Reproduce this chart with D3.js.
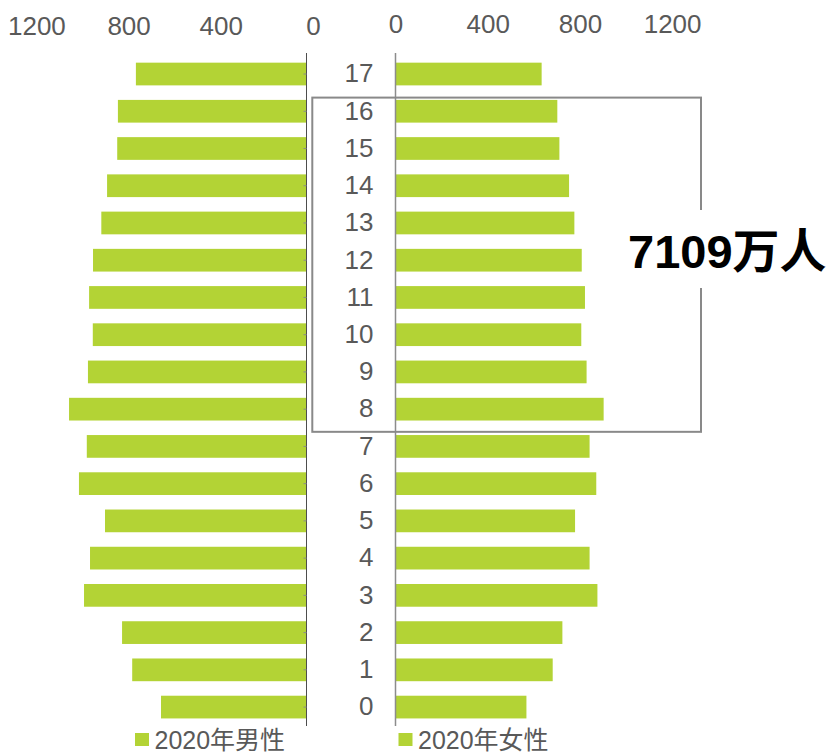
<!DOCTYPE html>
<html>
<head>
<meta charset="utf-8">
<script src="https://cdn.jsdelivr.net/npm/d3@7/dist/d3.min.js"></script>
<style>
  html, body { margin: 0; padding: 0; background: #fff; }
  svg { display: block; font-family: "Liberation Sans", Arial, "Noto Sans CJK SC", sans-serif; }
</style>
</head>
<body>
<svg id="chart" width="829" height="754"></svg>
<script>
// ages, top of the pyramid first
const ages = [17, 16, 15, 14, 13, 12, 11, 10, 9, 8, 7, 6, 5, 4, 3, 2, 1, 0];
// 万人
const male = [738, 816, 819, 863, 888, 924, 941, 925, 946, 1028, 951, 985, 872, 937, 963, 798, 754, 629];
const female = [634, 702, 711, 753, 776, 808, 822, 806, 829, 903, 842, 871, 779, 842, 876, 724, 682, 568];
const axisTicks = [0, 400, 800, 1200];
const legendLabels = ['2020年男性', '2020年女性'];
const boxedAges = [16, 8];
const boxLabel = '7109万人';

const barColour = '#b3d335';
const textColour = '#595959';

const svg = d3.select('#chart');

const leftZero = 306;
const rightZero = 395.5;
const pxPerUnit = 0.2305;

const xMale = d3.scaleLinear()
  .domain([0, 1200])
  .range([leftZero, leftZero - 1200 * pxPerUnit]);
const xFemale = d3.scaleLinear()
  .domain([0, 1200])
  .range([rightZero, rightZero + 1200 * pxPerUnit]);
const y = d3.scaleBand()
  .domain(ages)
  .range([55.4, 725.7])
  .paddingInner(0.39)
  .paddingOuter(0.195);

// bars
svg.append('g').selectAll('rect')
  .data(ages)
  .join('rect')
  .attr('x', (d, i) => xMale(male[i]))
  .attr('y', (d) => y(d))
  .attr('width', (d, i) => xMale(0) - xMale(male[i]))
  .attr('height', y.bandwidth())
  .attr('fill', barColour);

svg.append('g').selectAll('rect')
  .data(ages)
  .join('rect')
  .attr('x', xFemale(0))
  .attr('y', (d) => y(d))
  .attr('width', (d, i) => xFemale(female[i]) - xFemale(0))
  .attr('height', y.bandwidth())
  .attr('fill', barColour);

// vertical axis lines
svg.append('line')
  .attr('x1', leftZero + 0.5).attr('x2', leftZero + 0.5)
  .attr('y1', 53).attr('y2', 726)
  .attr('stroke', '#4d4d4d').attr('stroke-width', 1);
svg.append('line')
  .attr('x1', rightZero).attr('x2', rightZero)
  .attr('y1', 53).attr('y2', 726)
  .attr('stroke', '#8c8c8c').attr('stroke-width', 1.5);

// tiny category ticks on the male side
const tickAxis = svg.append('g')
  .attr('transform', 'translate(' + (leftZero + 0.5) + ',0)')
  .call(d3.axisLeft(y).tickSize(3).tickFormat(''));
tickAxis.select('.domain').remove();
tickAxis.selectAll('line').attr('stroke', '#8c8c8c');

// top value axes
const styleTop = (g) => {
  g.select('.domain').remove();
  g.selectAll('line').remove();
  g.selectAll('text')
    .attr('y', 0)
    .attr('dy', 0)
    .attr('fill', textColour)
    .attr('font-size', 26)
    .attr('font-family', '"Liberation Sans", Arial, sans-serif');
};

svg.append('g')
  .attr('transform', 'translate(0,34.5)')
  .call(d3.axisTop(xMale).tickValues(axisTicks).tickSize(0).tickFormat(d3.format('d')))
  .call(styleTop)
  .selectAll('text')
  .attr('dx', 7);

svg.append('g')
  .attr('transform', 'translate(0,32.5)')
  .call(d3.axisTop(xFemale).tickValues(axisTicks).tickSize(0).tickFormat(d3.format('d')))
  .call(styleTop);

// age labels between the halves
const ageAxis = svg.append('g')
  .attr('transform', 'translate(373.5,0)')
  .call(d3.axisLeft(y).tickSize(0).tickPadding(0));
ageAxis.select('.domain').remove();
ageAxis.selectAll('text')
  .attr('dy', '0.32em')
  .attr('fill', textColour)
  .attr('font-size', 26)
  .attr('font-family', '"Liberation Sans", Arial, sans-serif');

// highlight box round ages 16..8
const boxTop = y(boxedAges[0]) - 2.3;
const boxBottom = y(boxedAges[1]) + y.bandwidth() + 11.3;
svg.append('rect')
  .attr('x', 312.3)
  .attr('y', boxTop)
  .attr('width', 701 - 312.3)
  .attr('height', boxBottom - boxTop)
  .attr('fill', 'none')
  .attr('stroke', '#898989')
  .attr('stroke-width', 2);

svg.append('rect')
  .attr('x', 616).attr('y', 210)
  .attr('width', 213).attr('height', 78)
  .attr('fill', '#fff');
svg.append('text')
  .attr('x', 628)
  .attr('y', 268)
  .attr('font-size', 47)
  .attr('font-weight', 'bold')
  .attr('fill', '#000')
  .text(boxLabel);

// legend
const legendX = [135, 398.5];
const legend = svg.append('g').selectAll('g')
  .data(legendLabels)
  .join('g')
  .attr('transform', (d, i) => 'translate(' + legendX[i] + ',733)');
legend.append('rect')
  .attr('width', 14)
  .attr('height', 13)
  .attr('fill', barColour);
legend.append('text')
  .attr('x', 19.5)
  .attr('y', 15.5)
  .attr('font-size', 25)
  .attr('fill', textColour)
  .text((d) => d);
</script>
</body>
</html>
